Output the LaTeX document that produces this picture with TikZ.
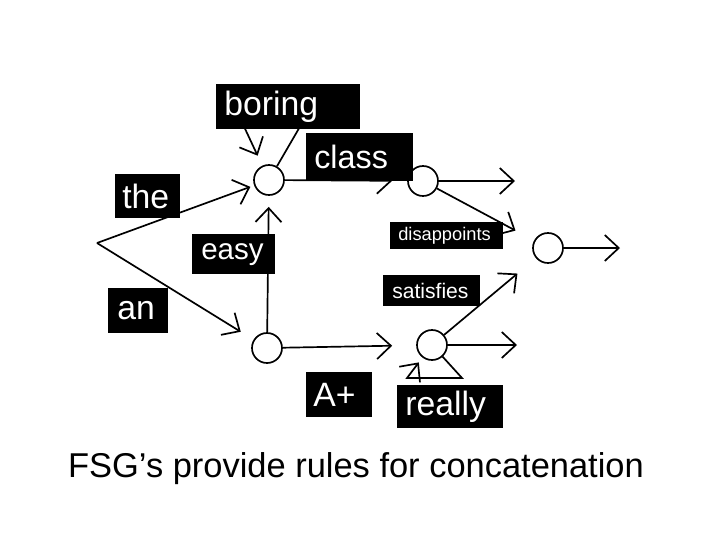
\documentclass[tikz,border=0pt]{standalone}
\usepackage{fontspec}
\setmainfont{Liberation Sans}
\usetikzlibrary{arrows.meta}

\begin{document}
\begin{tikzpicture}[x=0.25mm, y=-0.25mm,
    state/.style={circle, draw, line width=1.2pt, minimum size=7.5mm, inner sep=0pt, fill=white},
    arr/.style={-{Straight Barb[length=3.5mm, width=6.5mm]}, line width=1.2pt},
    lbl/.style={fill=black, text=white, anchor=north west, align=left, inner ysep=0pt,
        font=\fontsize{24}{26}\selectfont}]

    \useasboundingbox (0,0) rectangle (720,540);

    % States
    \coordinate (s0) at (97,243);
    \node[state] (c1) at (269,180) {};
    \node[state] (c2) at (267,348) {};
    \node[state] (c3) at (423,181) {};
    \node[state] (c4) at (548,248) {};
    \node[state] (c5) at (432,345) {};

    % Loose ends and loop corners
    \coordinate (o3) at (515,181);
    \coordinate (o4) at (620,248);
    \coordinate (o5) at (517,345);
    \coordinate (b1) at (305,118);
    \coordinate (b2) at (240,118);
    \coordinate (r1) at (462,378);
    \coordinate (r2) at (407,378);

    % Arcs
    \draw[arr, shorten >=1mm] (s0) -- (c1);
    \draw[arr, shorten >=3.75mm] (s0) -- (c2);
    \draw[arr, shorten >=2.75mm] (c2) -- (c1);
    \draw[arr, shorten >=2.75mm] (c1) -- (b1) -- (b2) -- (c1);
    \draw[arr, shorten >=3.75mm] (c1) -- (c3);
    \draw[arr, shorten >=6mm] (c2) -- (c5);
    \draw[arr, shorten >=1.5mm] (c5) -- (r1) -- (r2) -- (c5);
    \draw[arr] (c3) -- (o3);
    \draw[arr, shorten >=5.25mm] (c3) -- (c4);
    \draw[arr, shorten >=6mm] (c5) -- (c4);
    \draw[arr] (c5) -- (o5);
    \draw[arr] (c4) -- (o4);

    % Labels
    \node[lbl, text width=32mm, minimum height=11.25mm, inner xsep=2mm] (boring) at (216,84) {boring};
    \node[lbl, text width=22.75mm, minimum height=12mm, inner xsep=2mm,
        font=\fontsize{23}{26}\selectfont] (class) at (306,133) {class};
    \node[lbl, text width=12.75mm, minimum height=11mm, inner xsep=1.75mm] (the) at (115,174) {the};
    \node[lbl, text width=10.5mm, minimum height=11.25mm, inner xsep=2.25mm] (an) at (108,288) {an};
    \node[lbl, text width=16.25mm, minimum height=10mm, inner xsep=2.25mm,
        font=\fontsize{21}{24}\selectfont] (easy) at (192,234) {easy};
    \node[lbl, text width=24.25mm, minimum height=6.75mm, inner xsep=2mm,
        font=\fontsize{13}{15}\selectfont] (disap) at (390,222) {disappoints};
    \node[lbl, text width=19.75mm, minimum height=7.75mm, inner xsep=2.25mm,
        font=\fontsize{15}{17}\selectfont] (satis) at (383,275) {satisfies};
    \node[lbl, text width=13mm, minimum height=11.25mm, inner xsep=1.75mm] (aplus) at (306,372) {A+};
    \node[lbl, text width=22.5mm, minimum height=10.75mm, inner xsep=2mm] (really) at (397,385) {really};

    % Caption
    \node[font=\fontsize{24.5}{29}\selectfont, anchor=base] (caption) at (356,477)
        {FSG’s provide rules for concatenation};
\end{tikzpicture}
\end{document}
